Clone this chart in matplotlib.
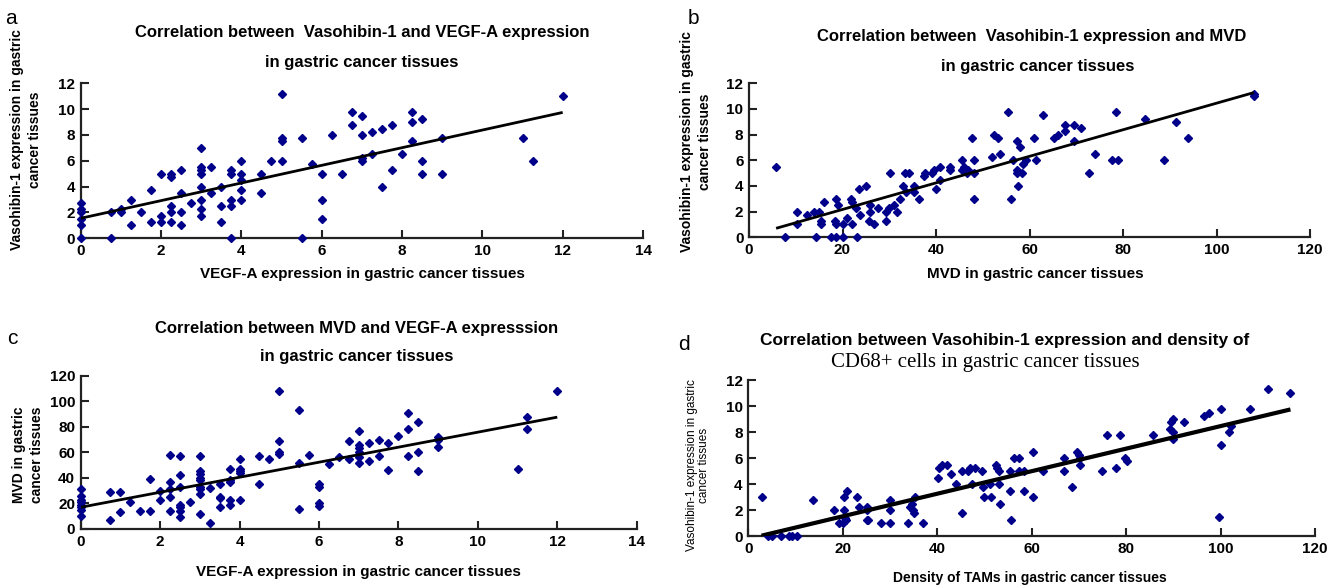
import matplotlib
matplotlib.use("Agg")
import matplotlib.pyplot as plt

plt.rcParams['font.family'] = ['Liberation Sans', 'DejaVu Sans']

# ---- panel a: VEGF-A vs Vasohibin-1 ----
a_vegf = [0, 0, 0, 0, 0, 0, 0.75, 0.75, 1, 1, 1.25, 1.25, 1.5, 1.75, 1.75,
          2, 2, 2, 2.25, 2.25, 2.25, 2.25, 2.25, 2.5, 2.5, 2.5, 2.5, 2.75,
          3, 3, 3, 3, 3, 3, 3, 3, 3.25, 3.25, 3.5, 3.5, 3.5,
          3.75, 3.75, 3.75, 3.75, 3.75, 4, 4, 4, 4, 4, 4.5, 4.5, 4.75,
          5, 5, 5, 5, 5.5, 5.5, 5.75, 6, 6, 6, 6.25, 6.5, 6.75, 6.75,
          7, 7, 7, 7, 7.25, 7.25, 7.5, 7.5, 7.75, 7.75, 8, 8.25, 8.25, 8.25,
          8.5, 8.5, 8.5, 9, 9, 11, 11.25, 12]
a_vaso = [2.75, 2.25, 2.0, 1.5, 1.0, 0, 2.0, 0, 2.25, 2.0, 3.0, 1.0, 2.0, 3.75, 1.25,
          5.0, 1.75, 1.25, 5.0, 4.75, 2.5, 2.0, 1.25, 5.25, 3.5, 2.0, 1.0, 2.75,
          7.0, 5.5, 5.25, 5.0, 4.0, 3.0, 2.25, 1.75, 5.5, 3.5, 4.0, 2.5, 1.25,
          5.25, 5.0, 3.0, 2.5, 0, 6.0, 5.0, 4.5, 3.75, 3.0, 5.0, 3.5, 6.0,
          11.2, 7.75, 7.5, 6.0, 7.75, 0, 5.75, 5.0, 3.0, 1.5, 8.0, 5.0, 9.75, 8.75,
          9.5, 8.0, 6.25, 6.0, 8.25, 6.5, 8.5, 4.0, 8.75, 5.25, 6.5, 9.75, 9.0, 7.5,
          9.25, 6.0, 5.0, 7.75, 5.0, 7.75, 6.0, 11.0]
a_trend = (0.683, 1.55)   # slope, intercept

# ---- panel b: MVD vs Vasohibin-1 ----
b_mvd = [5.8, 7.7, 10.2, 10.2, 12.5, 13.9, 14.4, 14.9, 15.3, 15.3, 16.1, 17.5,
         18.4, 18.7, 18.7, 18.7, 19.1, 20.0, 20.0, 20.9, 21.8, 22.1, 22.1, 22.8,
         23.2, 23.5, 23.7, 25.0, 25.9, 25.9, 25.7, 26.8, 27.5, 29.3, 29.4, 29.9,
         30.1, 31.0, 31.7, 32.4, 33.0, 33.3, 33.5, 34.2, 35.4, 35.4, 36.4, 37.4,
         37.6, 39.1, 39.6, 40.1, 40.9, 40.8, 42.9, 42.9, 45.6, 45.6, 46.0, 46.6,
         46.8, 47.8, 48.1, 48.1, 48.1, 52.0, 52.5, 53.2, 53.6, 55.4, 56.1, 56.4,
         57.4, 57.4, 57.4, 57.6, 57.9, 58.4, 58.6, 59.3, 60.9, 61.4, 62.8, 65.2,
         66.0, 67.6, 67.6, 69.6, 69.5, 71.0, 72.8, 74.0, 77.6, 78.5, 78.9, 84.8,
         88.7, 91.4, 93.9, 108.0, 108.0]
b_vaso = [5.5, 0, 2.0, 1.0, 1.75, 2.0, 0, 2.0, 1.25, 1.0, 2.75, 0,
          1.25, 3.0, 1.0, 0, 2.5, 1.0, 0, 1.5, 3.0, 2.75, 1.0, 2.25,
          0, 3.75, 1.75, 4.0, 2.5, 2.0, 1.25, 1.0, 2.25, 2.0, 1.25, 2.25,
          5.0, 2.5, 2.0, 3.0, 4.0, 5.0, 3.5, 5.0, 4.0, 3.5, 3.0, 4.75,
          5.0, 5.0, 5.25, 3.75, 5.5, 4.5, 5.5, 5.25, 6.0, 5.25, 5.5, 5.0,
          5.25, 7.75, 6.0, 5.0, 3.0, 6.25, 8.0, 7.75, 6.5, 9.75, 3.0, 6.0,
          7.5, 5.25, 5.0, 4.0, 7.0, 5.0, 5.75, 6.0, 7.75, 6.0, 9.5, 7.75,
          8.0, 8.75, 8.25, 8.75, 7.5, 8.5, 5.0, 6.5, 6.0, 9.75, 6.0, 9.25,
          6.0, 9.0, 7.75, 11.2, 11.0]
b_trend = (0.1035, 0.1)

# ---- panel c: VEGF-A vs MVD ----
c_vegf = [0, 0, 0, 0, 0, 0, 0, 0, 0.75, 0.75, 1, 1, 1.25, 1.5, 1.75, 1.75, 2, 2,
          2.25, 2.25, 2.25, 2.25, 2.25, 2.5, 2.5, 2.5, 2.5, 2.5, 2.5, 2.5, 2.75,
          3, 3, 3, 3, 3, 3, 3, 3, 3, 3.25, 3.25, 3.5, 3.5, 3.5, 3.5,
          3.75, 3.75, 3.75, 3.75, 3.75, 4, 4, 4, 4, 4, 4.5, 4.5, 4.75,
          5, 5, 5, 5, 5.5, 5.5, 5.5, 5.75, 6, 6, 6, 6, 6.25, 6.5, 6.75, 6.75,
          7, 7, 7, 7, 7, 7, 7.25, 7.25, 7.5, 7.5, 7.75, 7.75, 8, 8.25, 8.25, 8.25,
          8.5, 8.5, 8.5, 9, 9, 9, 11, 11.25, 11.25, 12]
c_mvd = [31, 26, 23, 21, 19, 17, 15, 10, 29, 7, 29, 13, 21, 14, 39, 14, 30, 23,
         58, 37, 31, 25, 14, 57, 42, 33, 19, 17, 14, 9, 21,
         57, 45, 43, 40, 38, 33, 31, 27, 12, 32, 5, 35, 25, 24, 17,
         47, 38, 37, 23, 19, 55, 47, 45, 44, 23, 57, 35, 55,
         108, 69, 60, 59, 93, 52, 16, 58, 35, 33, 20, 18, 51, 56, 69, 55,
         77, 66, 63, 60, 56, 52, 67, 53, 70, 57, 67, 46, 73, 91, 78, 57,
         84, 60, 45, 72, 70, 64, 47, 88, 78, 108]
c_trend = (5.875, 17.0)

# ---- panel d: TAM density vs Vasohibin-1 ----
d_tam = [2.8, 4.2, 5.1, 7.0, 8.7, 9.3, 10.4, 13.6, 18.1, 19.2, 20.1, 20.3, 20.3,
         20.5, 20.7, 21.0, 23.1, 23.4, 25.1, 25.1, 25.1, 25.3, 28.1, 30.0, 30.0,
         30.0, 33.9, 34.2, 34.6, 34.8, 35.1, 35.3, 37.0, 40.2, 40.4, 41.1, 42.1,
         43.0, 43.9, 45.2, 45.2, 46.6, 46.9, 47.4, 48.1, 49.5, 49.8, 50.0, 51.2,
         51.4, 52.4, 52.6, 53.1, 53.1, 53.3, 55.4, 55.6, 55.5, 56.2, 57.3, 57.3,
         58.4, 58.4, 60.2, 60.2, 62.5, 66.9, 66.9, 68.6, 69.7, 70.0, 70.2, 70.2,
         75.0, 75.9, 77.8, 78.7, 79.7, 80.1, 85.8, 89.3, 89.6, 90.0, 90.0, 90.0,
         92.3, 96.5, 97.5, 100.0, 100.0, 99.7, 101.8, 102.3, 106.3, 110.1, 114.8]
d_vaso = [3.0, 0, 0, 0, 0, 0, 0, 2.75, 2.0, 1.0, 1.0, 3.0, 2.0,
          1.35, 1.2, 3.5, 3.0, 2.25, 2.25, 2.0, 1.25, 1.2, 1.0, 2.75, 2.0,
          1.0, 1.0, 2.25, 2.5, 2.0, 1.75, 3.0, 1.0, 4.5, 5.25, 5.5, 5.5,
          4.75, 4.0, 5.0, 1.75, 5.0, 5.25, 4.0, 5.25, 5.0, 3.75, 3.0, 4.0,
          3.0, 5.5, 5.25, 5.0, 4.0, 2.5, 3.5, 1.2, 5.0, 6.0, 6.0, 5.0,
          5.0, 3.5, 6.5, 3.0, 5.0, 6.0, 5.0, 3.75, 6.5, 6.2, 6.0, 5.5,
          5.0, 7.75, 5.25, 7.75, 6.0, 5.75, 7.75, 8.25, 8.75, 9.0, 8.0, 7.5,
          8.75, 9.25, 9.5, 9.75, 7.0, 1.45, 8.0, 8.5, 9.75, 11.3, 11.0]
d_trend = (0.0867, -0.217)

W, H = 1336, 587
BLUE = '#00008B'


def px_axes(fig, left, right, bottom, top):
    # axes box given in pixel coordinates (origin at top-left)
    return fig.add_axes([left / W, 1 - bottom / H, (right - left) / W, (bottom - top) / H])


def style(ax, xmax, xstep, ymax, ystep):
    ax.set_xlim(0, xmax)
    ax.set_ylim(0, ymax)
    ax.set_xticks(range(0, xmax + 1, xstep))
    ax.set_yticks(range(0, ymax + 1, ystep))
    for s in ['top', 'right']:
        ax.spines[s].set_visible(False)
    for s in ['left', 'bottom']:
        ax.spines[s].set_linewidth(1.6)
        ax.spines[s].set_color('#222222')
    ax.tick_params(direction='in', length=6, width=1.5, color='#222222',
                   labelsize=11, pad=4)
    for lab in ax.get_xticklabels() + ax.get_yticklabels():
        lab.set_fontweight('bold')


def scatter_fit(ax, x, y, trend, lw=2.0):
    ax.plot(x, y, linestyle='none', marker='D', markersize=3.6,
            color=BLUE, clip_on=False, zorder=3)
    x0, x1 = min(x), max(x)
    slope, icpt = trend
    ax.plot([x0, x1], [slope * x0 + icpt, slope * x1 + icpt],
            color='black', lw=lw, zorder=4, solid_capstyle='butt')


fig = plt.figure(figsize=(W / 100, H / 100), dpi=100)

ax_a = px_axes(fig, 80.7, 643, 238.3, 83.3)
scatter_fit(ax_a, a_vegf, a_vaso, a_trend)
style(ax_a, 14, 2, 12, 2)

ax_b = px_axes(fig, 749, 1310, 237.3, 83.3)
scatter_fit(ax_b, b_mvd, b_vaso, b_trend)
style(ax_b, 120, 20, 12, 2)

ax_c = px_axes(fig, 80.7, 636.7, 529, 375.6)
scatter_fit(ax_c, c_vegf, c_mvd, c_trend)
style(ax_c, 14, 2, 120, 20)

ax_d = px_axes(fig, 748.3, 1315, 536, 380)
scatter_fit(ax_d, d_tam, d_vaso, d_trend, lw=3.0)
style(ax_d, 120, 20, 12, 2)


def ftext(x, y, s, **kw):
    fig.text(x / W, 1 - y / H, s, **kw)


# panel letters
for x, y, s in [(5, 18, 'a'), (688, 18, 'b'), (7, 338, 'c'), (678, 345, 'd')]:
    ftext(x, y, s, fontsize=15, va='center', ha='left')

tkw = dict(fontsize=12, fontweight='bold', ha='center', va='center')
ftext(362, 33, 'Correlation between  Vasohibin-1 and VEGF-A expression', **tkw)
ftext(362, 63, 'in gastric cancer tissues', **tkw)
ftext(1032, 36, 'Correlation between  Vasohibin-1 expression and MVD', **tkw)
ftext(1038, 66, 'in gastric cancer tissues', **tkw)
ftext(357, 328, 'Correlation between MVD and VEGF-A expresssion', **tkw)
ftext(357, 357, 'in gastric cancer tissues', **tkw)
ftext(760, 340, 'Correlation between Vasohibin-1 expression and density of',
      fontsize=12.5, fontweight='bold', ha='left', va='center')
ftext(985, 362, 'CD68+ cells in gastric cancer tissues',
      family=['Liberation Serif'], fontsize=15, ha='center', va='center')

# axis labels
xkw = dict(fontsize=11, fontweight='bold', ha='center', va='center')
ftext(362, 274, 'VEGF-A expression in gastric cancer tissues', **xkw)
ftext(1035, 274, 'MVD in gastric cancer tissues', **xkw)
ftext(358, 572, 'VEGF-A expression in gastric cancer tissues', **xkw)
ftext(1030, 578, 'Density of TAMs in gastric cancer tissues', fontsize=10,
      fontweight='bold', ha='center', va='center')

ykw = dict(fontsize=10, fontweight='bold', ha='center', va='center',
           rotation=90, linespacing=1.3)
ftext(26, 140, 'Vasohibin-1 expression in gastric\ncancer tissues', **ykw)
ftext(696, 142, 'Vasohibin-1 expression in gastric\ncancer tissues', **ykw)
ftext(28, 455, 'MVD in gastric\ncancer tissues', **ykw)
ftext(698, 465, 'Vasohibin-1 expression in gastric\ncancer tissues',
      rotation=90, linespacing=1.0, fontsize=8.5, ha='center', va='center')

fig.savefig('out.png', dpi=100)
